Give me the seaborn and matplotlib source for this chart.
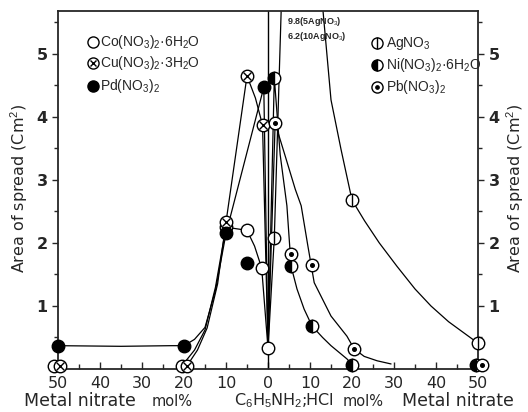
import numpy as np
import pandas as pd
import seaborn as sns
import matplotlib
matplotlib.use("Agg")
import matplotlib.pyplot as plt

# ---------------- data (x < 0: metal nitrate side left, x > 0: right) -------------
# marker values (mol% metal nitrate, area of spread cm^2)
co_x = [-51, -20.5, -10, -5, -1.5, 0]
co_y = [0.05, 0.05, 2.25, 2.2, 1.6, 0.33]
cu_x = [-49.5, -19.3, -10, -5, -1.3]
cu_y = [0.05, 0.05, 2.33, 4.65, 3.87]
pd_x = [-50, -20, -10, -5, -1]
pd_y = [0.37, 0.37, 2.15, 1.68, 4.47]
ag_x = [1.5, 5, 10, 20, 50]
ag_y = [2.08, 9.8, 6.2, 2.68, 0.41]
ni_x = [1.5, 5.5, 10.5, 20, 49.5]
ni_y = [4.62, 1.63, 0.68, 0.07, 0.07]
pb_x = [1.7, 5.5, 10.5, 20.5, 51]
pb_y = [3.9, 1.82, 1.65, 0.32, 0.07]

# hand-drawn curves (vertices)
co_cx = [-20.5, -17.5, -15, -12.5, -10, -5, -3.2, -1.5, 0]
co_cy = [0.05, 0.3, 0.62, 1.3, 2.25, 2.2, 1.95, 1.6, 0.33]
cu_cx = [-19.3, -16.8, -14.5, -12, -10, -5, -3, -1.3, 0]
cu_cy = [0.05, 0.3, 0.65, 1.35, 2.33, 4.65, 4.3, 3.87, 0.33]
pd_cx = [-50, -35, -23, -20, -17.5, -15, -12.5, -10, -1, 0]
pd_cy = [0.37, 0.36, 0.37, 0.37, 0.47, 0.66, 1.25, 2.15, 4.47, 0.33]
ag_cx = [0, 1.5, 5, 10, 13.1, 15, 17.4, 20, 23, 26.5, 30.7, 35, 38.8, 43, 46.7, 50]
ag_cy = [0.33, 2.08, 9.8, 6.2, 5.68, 4.27, 3.48, 2.68, 2.35, 2.0, 1.63, 1.27, 1.0, 0.75, 0.57, 0.41]
ni_cx = [0, 1.5, 2.9, 4.5, 5.5, 6.9, 8.6, 10.5, 13, 15, 18.8, 20]
ni_cy = [0.33, 4.62, 3.4, 2.59, 1.63, 1.27, 0.95, 0.68, 0.5, 0.37, 0.16, 0.07]
pb_cx = [0, 1.7, 4.0, 6.5, 7.9, 9.5, 11, 15, 18.8, 20.5, 22.9, 26, 29.3]
pb_cy = [0.33, 3.9, 3.4, 2.85, 2.59, 1.95, 1.37, 0.84, 0.52, 0.32, 0.2, 0.13, 0.08]

xtick_pos = [-50, -40, -30, -20, -10, 0, 10, 20, 30, 40, 50]
xtick_lab = ["50", "40", "30", "20", "10", "0", "10", "20", "30", "40", "50"]
ytick_pos = [1, 2, 3, 4, 5]

# ---------------- figure ----------------
sns.set_style("ticks")
plt.rcParams["font.family"] = ["DejaVu Sans"]
plt.rcParams["mathtext.fontset"] = "custom"
plt.rcParams["mathtext.rm"] = "Liberation Sans"
plt.rcParams["mathtext.it"] = "Liberation Sans:italic"
plt.rcParams["mathtext.bf"] = "Liberation Sans:bold"
W, H = 528, 412
fig = plt.figure(figsize=(W / 100, H / 100), dpi=100)
L, R, T, B = 58, 478, 11, 369
ax = fig.add_axes([L / W, 1 - B / H, (R - L) / W, (B - T) / H])
ax.set_xlim(-50, 50)
ax.set_ylim(0, 5.68)

def px(x, y):
    return x / W, 1 - y / H

lw = 0.9
for cx, cy in [(co_cx, co_cy), (cu_cx, cu_cy), (pd_cx, pd_cy),
               (ag_cx, ag_cy), (ni_cx, ni_cy), (pb_cx, pb_cy)]:
    d = pd.DataFrame({"x": cx, "y": cy})
    sns.lineplot(data=d, x="x", y="y", sort=False, estimator=None, ax=ax,
                 color="black", lw=lw, zorder=2)
ax.axvline(0, color="black", lw=1.0, zorder=2)

ms = 9
mew = 1.0
def circles(x, y, face):
    d = pd.DataFrame({"x": x, "y": y})
    sns.scatterplot(data=d, x="x", y="y", ax=ax, s=ms ** 2, marker="o",
                    facecolor=face, edgecolor="black", linewidth=mew,
                    zorder=4, clip_on=False)

def clipmask(x, y):
    return [xi for xi, yi in zip(x, y) if yi <= 5.68], [yi for yi in y if yi <= 5.68]

circles(co_x, co_y, "white")
circles(cu_x, cu_y, "white")
ax.plot(cu_x, cu_y, ls="none", marker="x", ms=5.5, mew=1.0, color="black", zorder=5, clip_on=False)
circles(pd_x, pd_y, "black")
agx, agy = clipmask(ag_x, ag_y)
circles(agx, agy, "white")
ax.plot(agx, agy, ls="none", marker="|", ms=ms, mew=1.0, color="black", zorder=5, clip_on=False)
ax.plot(ni_x, ni_y, ls="none", marker="o", ms=ms, fillstyle="left",
        markerfacecolor="black", markerfacecoloralt="white", markeredgecolor="black",
        mew=mew, zorder=4, clip_on=False)
circles(pb_x, pb_y, "white")
ax.plot(pb_x, pb_y, ls="none", marker="o", ms=2.6, color="black", zorder=5, clip_on=False)

# ---------------- axes styling ----------------
for s in ax.spines.values():
    s.set_linewidth(1.3)
ax.set_xticks(xtick_pos)
ax.set_xticklabels(xtick_lab, fontsize=11.5)
ax.set_xticks(np.arange(-45, 50, 10), minor=True)
ax.tick_params(axis="x", which="major", direction="in", length=5, width=1, pad=5)
ax.tick_params(axis="x", which="minor", direction="in", length=3.5, width=1)
ax.set_yticks(ytick_pos)
ax.set_yticks(np.arange(0.5, 5.6, 1.0), minor=True)
ax.tick_params(axis="y", which="both", left=True, right=True, labelleft=True,
               labelright=True, direction="out", width=1, labelsize=11.5)
ax.tick_params(axis="y", which="major", length=4.5, pad=3)
ax.tick_params(axis="y", which="minor", length=3)
for t in ax.get_yticklabels():
    t.set_fontweight("bold")
ax.set_xlabel("")
ax.set_ylabel("")

# ---------------- legends (inside) ----------------
leg_fs = 10
lf = "Liberation Sans"
lx, ltx = -41.7, -40.0
ax.plot([lx], [5.19], marker="o", ms=8, mfc="white", mec="black", mew=mew, zorder=5)
ax.text(ltx, 5.19, r"Co(NO$_3$)$_2$·6H$_2$O", fontsize=leg_fs, va="center", family=lf)
ax.plot([lx], [4.86], marker="o", ms=8, mfc="white", mec="black", mew=mew, zorder=5)
ax.plot([lx], [4.86], marker="x", ms=5, mew=1, color="black", zorder=6)
ax.text(ltx, 4.86, r"Cu(NO$_3$)$_2$·3H$_2$O", fontsize=leg_fs, va="center", family=lf)
ax.plot([lx], [4.49], marker="o", ms=8, mfc="black", mec="black", mew=mew, zorder=5)
ax.text(ltx, 4.49, r"Pd(NO$_3$)$_2$", fontsize=leg_fs, va="center", family=lf)

rx, rtx = 26.0, 28.0
ax.plot([rx], [5.17], marker="o", ms=8, mfc="white", mec="black", mew=mew, zorder=5)
ax.plot([rx], [5.17], marker="|", ms=8, mew=1, color="black", zorder=6)
ax.text(rtx, 5.17, r"AgNO$_3$", fontsize=leg_fs, va="center", family=lf)
ax.plot([rx], [4.82], marker="o", ms=8, fillstyle="left", markerfacecolor="black",
        markerfacecoloralt="white", mec="black", mew=mew, zorder=5)
ax.text(rtx, 4.82, r"Ni(NO$_3$)$_2$·6H$_2$O", fontsize=leg_fs, va="center", family=lf)
ax.plot([rx], [4.47], marker="o", ms=8, mfc="white", mec="black", mew=mew, zorder=5)
ax.plot([rx], [4.47], marker="o", ms=2.4, color="black", zorder=6)
ax.text(rtx, 4.47, r"Pb(NO$_3$)$_2$", fontsize=leg_fs, va="center", family=lf)

ax.text(4.6, 5.51, r"9.8(5AgNO$_3$)", fontsize=6.5, fontweight="bold", va="center", family=lf)
ax.text(4.6, 5.27, r"6.2(10AgNO$_3$)", fontsize=6.5, fontweight="bold", va="center", family=lf)

# ---------------- outer labels ----------------
fig.text(*px(19, 188), r"Area of spread (Cm$^2$)", rotation=90, ha="center", va="center", fontsize=11.5)
fig.text(*px(515, 188), r"Area of spread (Cm$^2$)", rotation=90, ha="center", va="center", fontsize=11.5)
fig.text(*px(80, 401), "Metal nitrate", ha="center", va="center", fontsize=12.5)
fig.text(*px(172, 401), "mol%", ha="center", va="center", fontsize=10.5)
fig.text(*px(284, 401), r"C$_6$H$_5$NH$_2$;HCl", ha="center", va="center", fontsize=11.5)
fig.text(*px(363, 401), "mol%", ha="center", va="center", fontsize=10.5)
fig.text(*px(458, 401), "Metal nitrate", ha="center", va="center", fontsize=12.5)

fig.savefig("out.png", dpi=100, facecolor="white")
